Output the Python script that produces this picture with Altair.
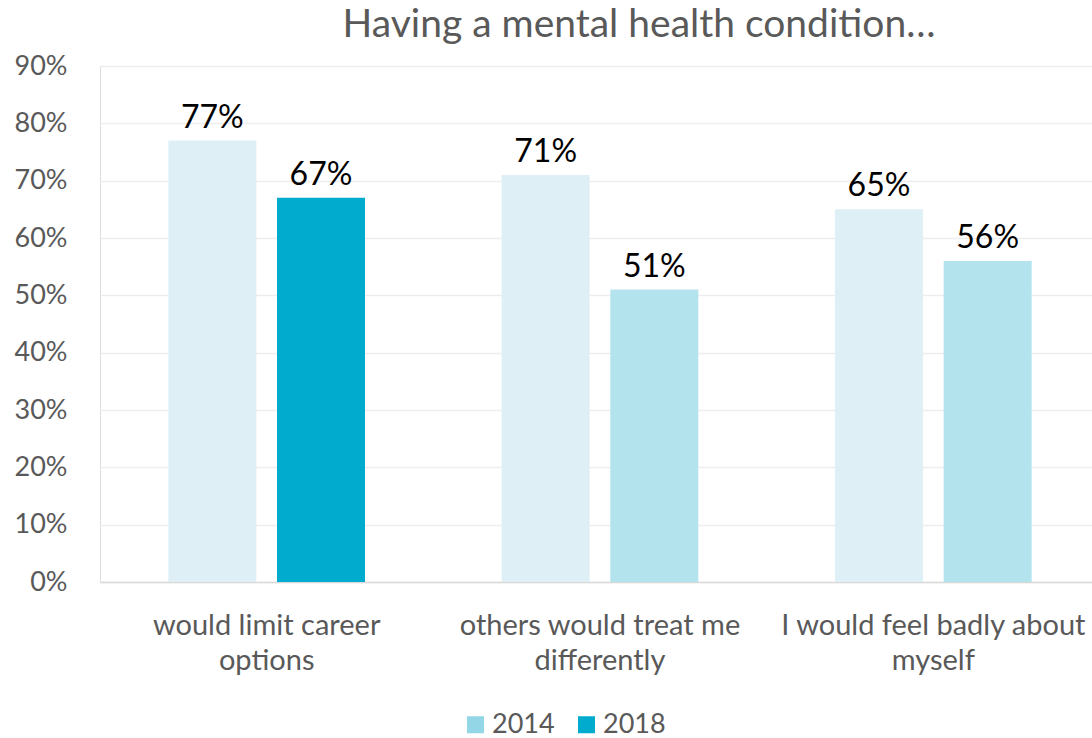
import altair as alt
import pandas as pd

categories = ["would limit career options", "others would treat me differently", "I would feel badly about myself"]
label_lines = {
    "would limit career options": ["would limit career", "options"],
    "others would treat me differently": ["others would treat me", "differently"],
    "I would feel badly about myself": ["I would feel badly about", "myself"],
}
years = ["2014", "2018"]
values_2014 = [0.77, 0.71, 0.65]
values_2018 = [0.67, 0.51, 0.56]
fill_2014 = ["#DEF0F6", "#DEF0F6", "#DEF0F6"]
fill_2018 = ["#00ABCD", "#B3E4EE", "#B3E4EE"]
legend_colors = ["#93D6E6", "#00ABCD"]

rows = []
for i, c in enumerate(categories):
    rows.append({"cat": c, "year": "2014", "value": values_2014[i], "fill": fill_2014[i]})
    rows.append({"cat": c, "year": "2018", "value": values_2018[i], "fill": fill_2018[i]})
df = pd.DataFrame(rows)
legend_df = pd.DataFrame({"year": years})

FONT = "Lato"
GRAY = "#595959"

label_expr = " : ".join(
    f"datum.value == '{k}' ? {v!r}" for k, v in label_lines.items()
) + " : datum.value"

x_enc = alt.X(
    "cat:N",
    sort=categories,
    scale=alt.Scale(paddingInner=0.41, paddingOuter=0.205, range=[0, 1000]),
    axis=alt.Axis(
        title=None, labelAngle=0, labelFontSize=29, labelColor=GRAY, labelFont=FONT,
        labelPadding=29, labelLineHeight=35, labelLimit=400, ticks=False,
        domainColor="#D9D9D9", domainWidth=1.5, labelExpr=label_expr,
    ),
)
xoff = alt.XOffset("year:N", sort=years, scale=alt.Scale(paddingInner=0.19))
y_enc = alt.Y(
    "value:Q",
    scale=alt.Scale(domain=[0, 0.9]),
    axis=alt.Axis(
        title=None, format=".0%", values=[i / 10 for i in range(10)],
        labelFontSize=27, labelColor=GRAY, labelFont=FONT, labelPadding=33,
        ticks=False, domain=False, gridColor="#EDEDED", gridWidth=1.5,
    ),
)

bars = alt.Chart(df).mark_bar().encode(
    x=x_enc,
    xOffset=xoff,
    y=y_enc,
    fill=alt.Fill("fill:N", scale=None),
)

legend_layer = alt.Chart(legend_df).mark_square(opacity=0).encode(
    x=alt.value(0),
    y=alt.value(0),
    color=alt.Color(
        "year:N",
        scale=alt.Scale(domain=years, range=legend_colors),
        legend=alt.Legend(
            title=None, orient="none", direction="horizontal", legendX=362, legendY=645,
            symbolType="square", symbolSize=289, symbolStrokeWidth=0, symbolOpacity=1,
            labelFontSize=27, labelColor=GRAY, labelFont=FONT, columnPadding=18,
            labelOffset=3,
        ),
    ),
)

labels = alt.Chart(df).mark_text(
    fontSize=32, font=FONT, color="black", baseline="alphabetic", dy=-13
).encode(
    x=alt.X("cat:N", sort=categories),
    xOffset=xoff,
    y=alt.Y("value:Q"),
    text=alt.Text("value:Q", format=".0%"),
)

chart = (
    alt.layer(bars, labels, legend_layer)
    .properties(
        width=992,
        height=516,
        autosize=alt.AutoSizeParams(type="none"),
        padding={"left": 100, "top": 66, "right": 0, "bottom": 156},
        title=alt.Title(
            "Having a mental health condition…", fontSize=39, font=FONT, color=GRAY,
            fontWeight="normal", anchor="middle", dx=43, offset=7,
        ),
    )
    .configure_view(stroke=None)
    .configure(background="white")
)

chart.save("out.html", embed_options={"renderer": "svg", "actions": False})
